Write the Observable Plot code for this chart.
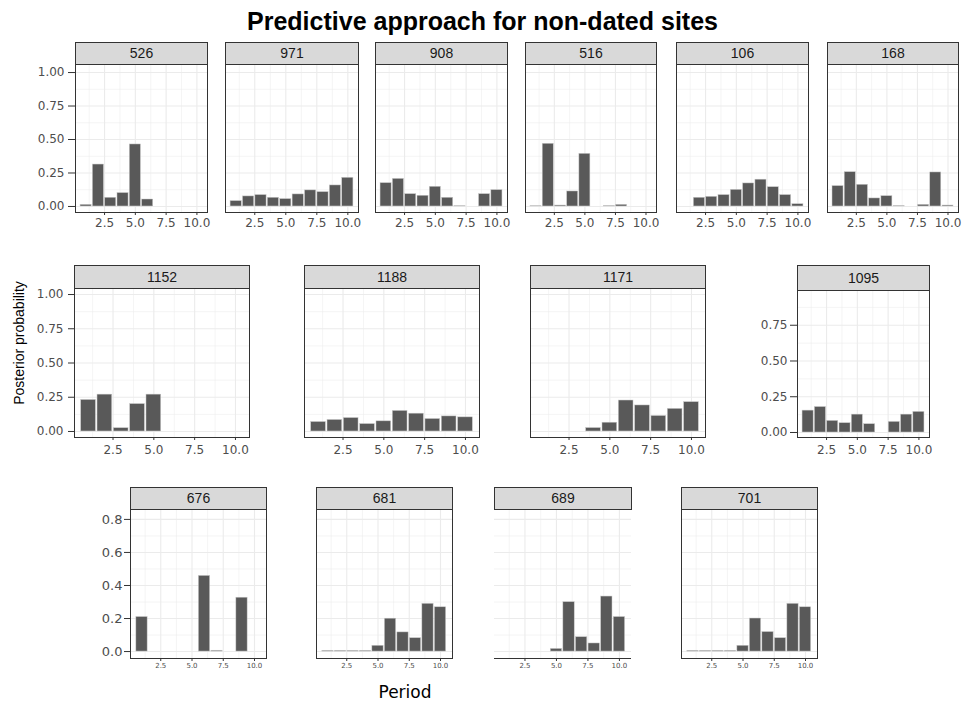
<!DOCTYPE html>
<html><head><meta charset="utf-8">
<script src="https://cdn.jsdelivr.net/npm/d3@7"></script>
<script src="https://cdn.jsdelivr.net/npm/@observablehq/plot@0.6"></script>
<style>
html,body{margin:0;padding:0;background:#fff;}
#chart{position:relative;width:965px;height:702px;overflow:hidden;font-family:"Liberation Sans",Arial,sans-serif;background:#fff;}
.strip{position:absolute;box-sizing:border-box;background:#d9d9d9;border:1px solid #333;color:#1a1a1a;font-size:14px;text-align:center;font-family:"Liberation Sans",Arial,sans-serif;}
.title{position:absolute;left:0;width:965px;top:9px;text-align:center;font-weight:bold;font-size:25px;line-height:25px;color:#000;}
.xlab{position:absolute;left:405px;top:684px;transform:translateX(-50%);font-family:"DejaVu Sans",sans-serif;font-size:17px;line-height:17px;color:#000;white-space:nowrap;}
.ylab{position:absolute;left:19px;top:343px;transform:translate(-50%,-50%) rotate(-90deg);font-size:14px;line-height:14px;color:#000;white-space:nowrap;}
</style></head><body><div id="chart"></div>
<script>
// ---- data ----
const periods = [1, 2, 3, 4, 5, 6, 7, 8, 9, 10];
const xTicks = [2.5, 5, 7.5, 10];
const yTicksProb = [0, 0.25, 0.5, 0.75, 1];
const yTicksRow3 = [0, 0.2, 0.4, 0.6, 0.8];

const v526  = [0.012, 0.313, 0.065, 0.100, 0.463, 0.052, null, null, null, null];
const v971  = [0.040, 0.075, 0.085, 0.065, 0.055, 0.090, 0.120, 0.107, 0.157, 0.214];
const v908  = [0.174, 0.206, 0.092, 0.080, 0.147, 0.065, 0.002, null, 0.092, 0.122];
const v516  = [0.002, 0.468, 0.007, 0.112, 0.393, null, 0.003, 0.012, null, null];
const v106  = [null, 0.065, 0.072, 0.085, 0.124, 0.172, 0.200, 0.144, 0.085, 0.017];
const v168  = [0.152, 0.256, 0.162, 0.060, 0.077, 0.003, null, 0.012, 0.254, 0.007];
const v1152 = [0.230, 0.269, 0.024, 0.200, 0.269, null, null, null, null, null];
const v1188 = [0.069, 0.084, 0.098, 0.054, 0.074, 0.150, 0.130, 0.091, 0.110, 0.103];
const v1171 = [null, null, null, 0.025, 0.064, 0.226, 0.190, 0.113, 0.165, 0.214];
const v1095 = [0.153, 0.178, 0.081, 0.065, 0.125, 0.058, null, 0.074, 0.125, 0.144];
const v676  = [0.209, null, null, null, null, 0.458, 0.005, null, 0.326, null];
const v681  = [0.004, 0.004, 0.004, 0.004, 0.035, 0.199, 0.116, 0.081, 0.289, 0.268];
const v689  = [null, null, null, null, 0.016, 0.299, 0.087, 0.049, 0.333, 0.209];
const v701  = [0.004, 0.004, 0.004, 0.004, 0.035, 0.200, 0.118, 0.081, 0.289, 0.268];

// ---- layout ----
const R1 = {stripTop:42, top:64, bottom:212, ydom:[-0.045,1.06], xdom:[0.14,10.86], yt:yTicksProb, fmt:".2f", xFont:12, yFont:12, tsy:7, pady:4, xPad:3};
const R2 = {stripTop:265, top:288, bottom:437, ydom:[-0.044,1.044], xdom:[0.14,10.86], yt:yTicksProb, fmt:".2f", xFont:12, yFont:12, tsy:6, pady:5, xPad:5};
const R2b = {stripTop:265, top:290, bottom:437, ydom:[-0.035,0.993], xdom:[0.14,10.86], yt:yTicksProb, fmt:".2f", xFont:12, yFont:12, tsy:7, pady:3, xPad:5};
const R3 = {stripTop:487, top:509, bottom:658, ydom:[-0.042,0.86], xdom:[0.08,10.96], yt:yTicksRow3, fmt:".1f", xFont:7, yFont:13, tsy:6, pady:2, xPad:2};

const panels = [
  {site:"526", vals:v526, left:75, w:132, row:R1, yaxis:true},
  {site:"971", vals:v971, left:225, w:133, row:R1},
  {site:"908", vals:v908, left:375, w:132, row:R1},
  {site:"516", vals:v516, left:525, w:131, row:R1},
  {site:"106", vals:v106, left:676, w:132, row:R1},
  {site:"168", vals:v168, left:827, w:131, row:R1},
  {site:"1152", vals:v1152, left:74, w:175, row:R2, yaxis:true},
  {site:"1188", vals:v1188, left:304, w:175, row:R2},
  {site:"1171", vals:v1171, left:530, w:175, row:R2},
  {site:"1095", vals:v1095, left:797, w:132, row:R2b, yaxis:true},
  {site:"676", vals:v676, left:130, w:136, row:R3, yaxis:true},
  {site:"681", vals:v681, left:316, w:136, row:R3},
  {site:"689", vals:v689, left:494, w:137, row:R3, noSides:true},
  {site:"701", vals:v701, left:681, w:136, row:R3}
];

const chart = document.getElementById("chart");
const title = document.createElement("div");
title.className = "title";
title.textContent = "Predictive approach for non-dated sites";
chart.appendChild(title);

function mids(arr) {
  const out = [];
  for (let i = 0; i < arr.length - 1; i++) out.push((arr[i] + arr[i + 1]) / 2);
  const step = arr[1] - arr[0];
  out.push(arr[0] - step / 2, arr[arr.length - 1] + step / 2);
  return out;
}

function drawPanel(spec) {
  const {site, vals, left, w, row, yaxis, noSides} = spec;
  const data = periods.map((p, i) => ({period: p, prob: vals[i]})).filter(d => d.prob != null);
  const h = row.bottom - row.top;
  const ML = 60, MR = 6, MT = 1, MB = 30;
  const inY = t => t >= row.ydom[0] && t <= row.ydom[1];
  const inX = t => t >= row.xdom[0] && t <= row.xdom[1];
  const yt = row.yt.filter(inY);
  const yMinor = mids(row.yt).filter(inY);
  const xMinor = mids(xTicks).filter(inX);
  const marks = [
    Plot.ruleX(xMinor, {stroke:"#ebebeb", strokeWidth:0.55}),
    Plot.ruleY(yMinor, {stroke:"#ebebeb", strokeWidth:0.55}),
    Plot.ruleX(xTicks, {stroke:"#ebebeb", strokeWidth:1.1}),
    Plot.ruleY(yt, {stroke:"#ebebeb", strokeWidth:1.1}),
    Plot.rect(data, {x1: d => d.period - 0.45, x2: d => d.period + 0.45, y1: 0, y2: "prob",
      fill:"#595959", stroke:"#c9c9c9", strokeWidth:0.5}),
    noSides ? Plot.ruleY([row.ydom[0]], {stroke:"#333", strokeWidth:1})
            : Plot.frame({stroke:"#333", strokeWidth:1}),
    Plot.axisX({ticks: xTicks, tickFormat: d3.format(".1f"), tickSize: 3, tickPadding: row.xPad,
      fontSize: row.xFont, label: null, stroke:"#333", fill:"#4d4d4d"})
  ];
  if (yaxis) marks.push(Plot.axisY({ticks: yt, tickFormat: d3.format(row.fmt), tickSize: row.tsy,
      tickPadding: row.pady, fontSize: row.yFont, label: null, stroke:"#333", fill:"#4d4d4d"}));
  const svg = Plot.plot({
    width: w + ML + MR, height: h + MT + MB,
    marginLeft: ML, marginRight: MR, marginTop: MT, marginBottom: MB,
    x: {domain: row.xdom},
    y: yaxis ? {domain: row.ydom} : {domain: row.ydom, axis: null},
    marks
  });
  Object.assign(svg.style, {position:"absolute", left:(left - ML) + "px", top:(row.top - MT) + "px",
    background:"transparent", overflow:"visible", fontFamily:"'DejaVu Sans', sans-serif", maxWidth:"none"});
  chart.appendChild(svg);
  const strip = document.createElement("div");
  strip.className = "strip";
  const sh = row.top - row.stripTop + 1;
  Object.assign(strip.style, {left:left + "px", top:row.stripTop + "px", width:(w + 1) + "px",
    height:sh + "px", lineHeight:(sh - 2) + "px"});
  strip.textContent = site;
  chart.appendChild(strip);
}
panels.forEach(drawPanel);

const ylab = document.createElement("div");
ylab.className = "ylab";
ylab.textContent = "Posterior probability";
chart.appendChild(ylab);
const xlab = document.createElement("div");
xlab.className = "xlab";
xlab.textContent = "Period";
chart.appendChild(xlab);
</script></body></html>
